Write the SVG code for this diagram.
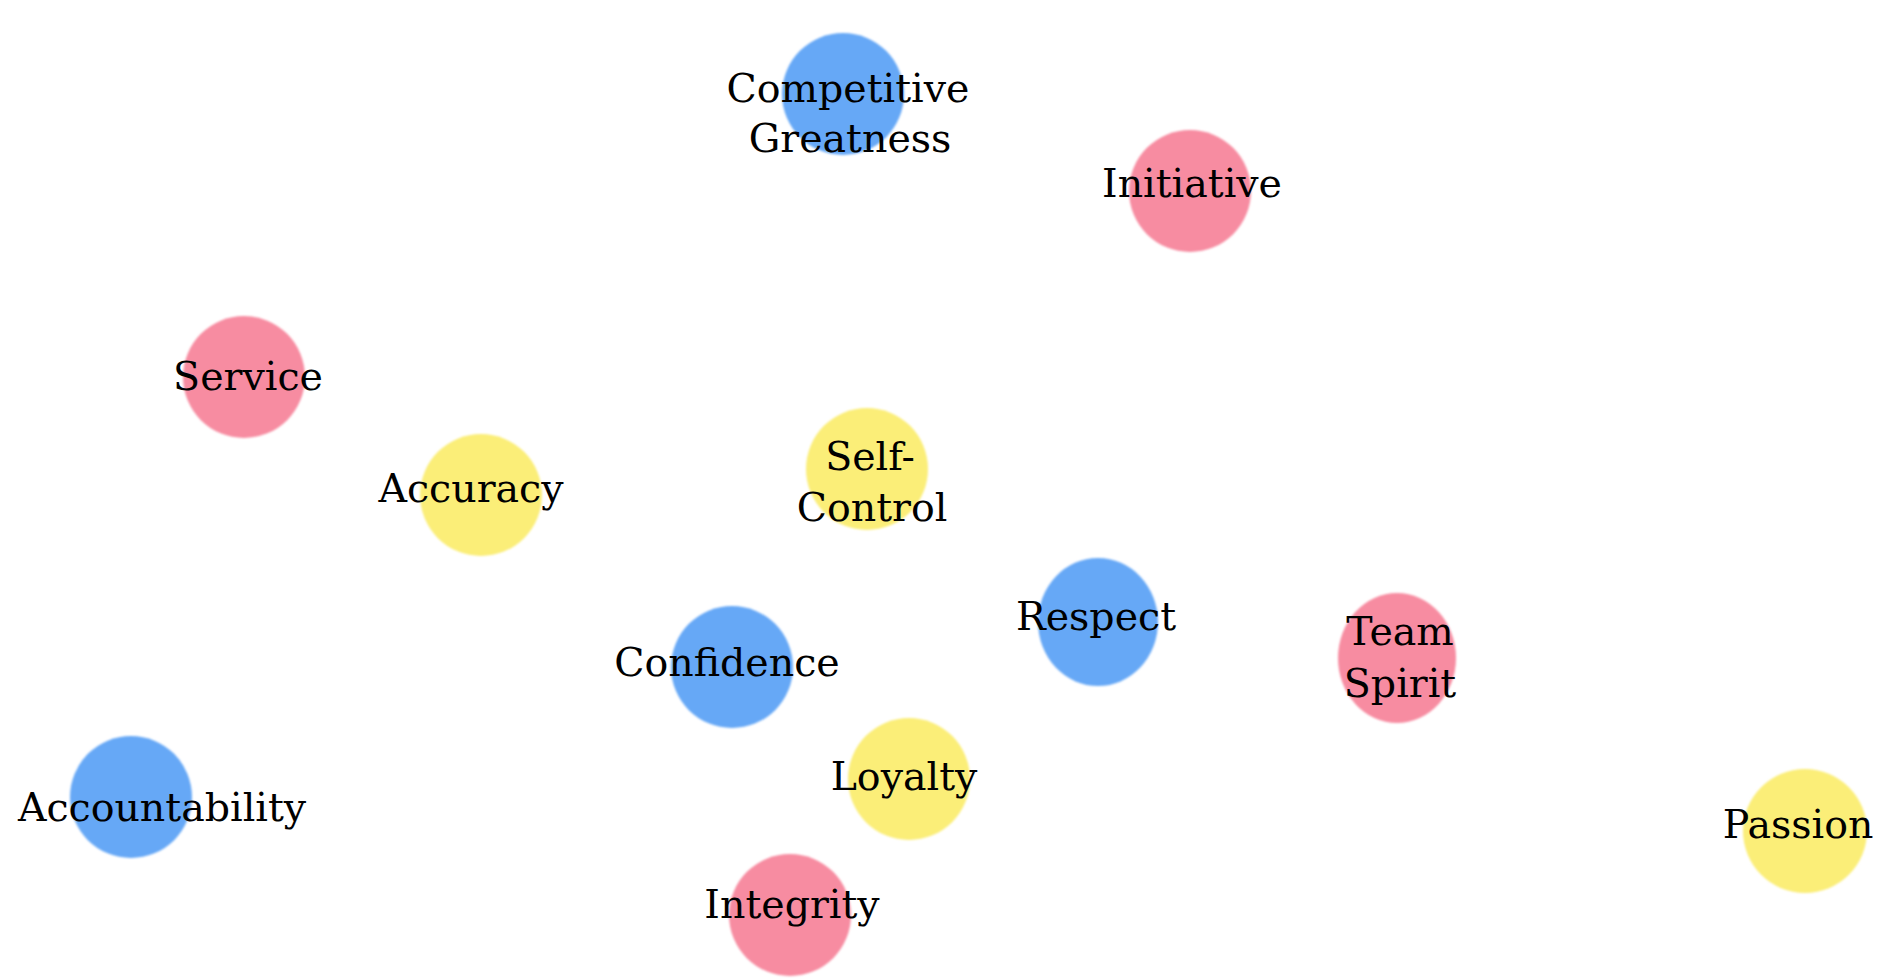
<svg xmlns="http://www.w3.org/2000/svg" width="1882" height="980" viewBox="0 0 1882 980">
  <style>
    .lbl { font-family: "DejaVu Serif", "Liberation Serif", serif; font-size: 39.5px; fill: #000; text-anchor: middle; }
    .blue { fill: #66a8f6; }
    .pink { fill: #f78ca1; }
    .yellow { fill: #fbee78; }
  </style>
  <defs>
    <!-- soft, painted edge for the dots -->
    <filter id="soft" x="-20%" y="-20%" width="140%" height="140%">
      <feGaussianBlur stdDeviation="1.2"/>
    </filter>
  </defs>
  <rect width="1882" height="980" fill="#ffffff"/>

  <g id="competitive-greatness">
    <circle class="blue" cx="843" cy="94" r="61" filter="url(#soft)"/>
    <text class="lbl" x="848" y="102">Competitive</text>
    <text class="lbl" x="850" y="152">Greatness</text>
  </g>
  <g id="initiative">
    <circle class="pink" cx="1190" cy="191" r="61" filter="url(#soft)"/>
    <text class="lbl" x="1192" y="197">Initiative</text>
  </g>
  <g id="service">
    <circle class="pink" cx="244" cy="377" r="61" filter="url(#soft)"/>
    <text class="lbl" x="248" y="390">Service</text>
  </g>
  <g id="accuracy">
    <circle class="yellow" cx="481" cy="495" r="61" filter="url(#soft)"/>
    <text class="lbl" x="471" y="502">Accuracy</text>
  </g>
  <g id="self-control">
    <circle class="yellow" cx="867" cy="469" r="61" filter="url(#soft)"/>
    <text class="lbl" x="870" y="470">Self-</text>
    <text class="lbl" x="872" y="521">Control</text>
  </g>
  <g id="respect">
    <ellipse class="blue" cx="1098" cy="622" rx="60" ry="64" filter="url(#soft)"/>
    <text class="lbl" x="1096" y="630">Respect</text>
  </g>
  <g id="team-spirit">
    <ellipse class="pink" cx="1397" cy="658" rx="59" ry="65" filter="url(#soft)"/>
    <text class="lbl" x="1400" y="645">Team</text>
    <text class="lbl" x="1400" y="697">Spirit</text>
  </g>
  <g id="confidence">
    <circle class="blue" cx="732" cy="667" r="61" filter="url(#soft)"/>
    <text class="lbl" x="727" y="676">Confidence</text>
  </g>
  <g id="loyalty">
    <circle class="yellow" cx="909" cy="779" r="61" filter="url(#soft)"/>
    <text class="lbl" x="904" y="790">Loyalty</text>
  </g>
  <g id="accountability">
    <circle class="blue" cx="131" cy="797" r="61" filter="url(#soft)"/>
    <text class="lbl" x="162" y="821">Accountability</text>
  </g>
  <g id="integrity">
    <circle class="pink" cx="790" cy="915" r="61" filter="url(#soft)"/>
    <text class="lbl" x="792" y="918">Integrity</text>
  </g>
  <g id="passion">
    <circle class="yellow" cx="1805" cy="831" r="62" filter="url(#soft)"/>
    <text class="lbl" x="1798" y="838">Passion</text>
  </g>
</svg>
